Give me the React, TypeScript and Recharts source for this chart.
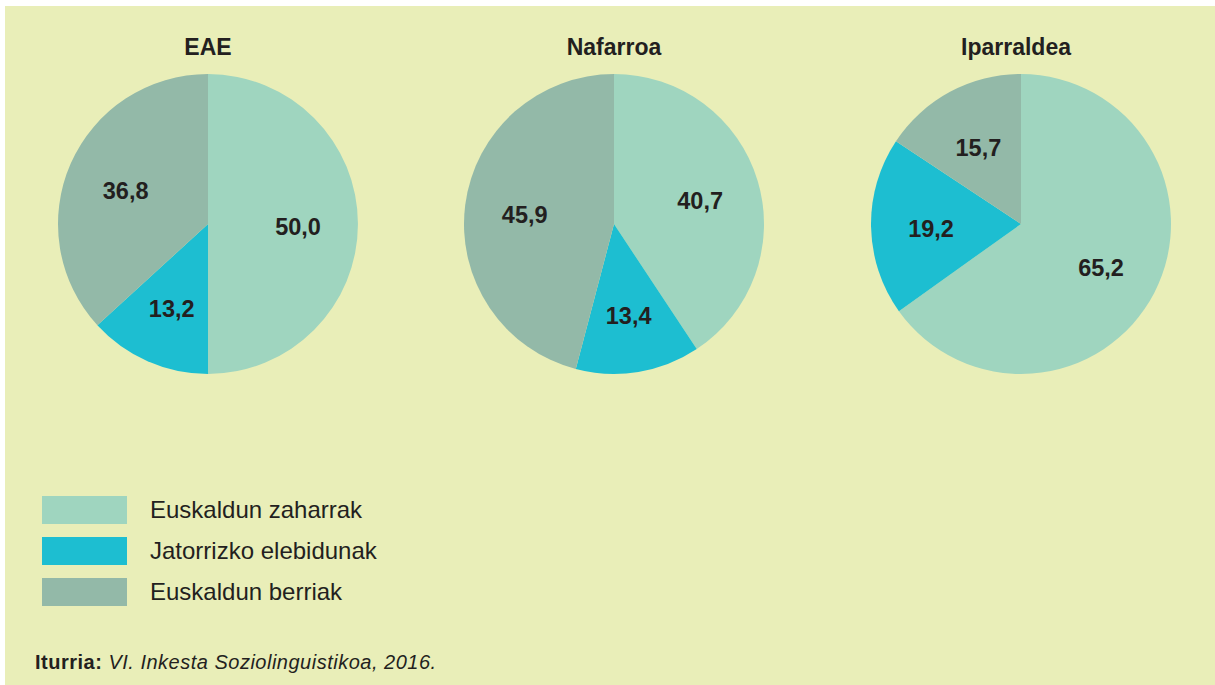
import { Cell, Pie, PieChart } from 'recharts'

// Euskaldun tipologia eremuka (%), VI. Inkesta Soziolinguistikoa 2016
const REGIONS = ['EAE', 'Nafarroa', 'Iparraldea']
const GROUPS = ['Euskaldun zaharrak', 'Jatorrizko elebidunak', 'Euskaldun berriak']
const EAE_VALUES = [50.0, 13.2, 36.8]
const NAFARROA_VALUES = [40.7, 13.4, 45.9]
const IPARRALDEA_VALUES = [65.2, 19.2, 15.7]
const GROUP_COLORS = ['#9fd5bf', '#1dbed1', '#93b9a8']

const VALUES = [EAE_VALUES, NAFARROA_VALUES, IPARRALDEA_VALUES]

const FONT = '"Liberation Sans", Arial, Helvetica, sans-serif'
const INK = '#231f20'
const BG = '#e9eeb8'

// pie layout: centres along one row, same radius
const PIE_CENTERS_X = [208, 614, 1021]
const TITLE_CENTERS_X = [208, 614, 1016]
const PIE_CY = 224
const R = 150
const BOX = 320
const RADIAN = Math.PI / 180

const fmt = (v: number) => v.toFixed(1).replace('.', ',')

function renderLabel(props: any) {
  const { cx, cy, midAngle, value } = props
  const r = R * 0.6
  const x = cx + r * Math.cos(-midAngle * RADIAN)
  const y = cy + r * Math.sin(-midAngle * RADIAN) + 3
  return (
    <text
      x={x}
      y={y}
      textAnchor="middle"
      dominantBaseline="central"
      fontFamily={FONT}
      fontWeight={700}
      fontSize={23.5}
      fill={INK}
    >
      {fmt(value)}
    </text>
  )
}

function RegionPie({ index }: { index: number }) {
  const data = GROUPS.map((name, i) => ({ name, value: VALUES[index][i] }))
  const centerX = PIE_CENTERS_X[index]
  return (
    <>
      <div
        style={{
          position: 'absolute',
          left: TITLE_CENTERS_X[index] - 150,
          top: 36,
          width: 300,
          textAlign: 'center',
          fontFamily: FONT,
          fontWeight: 700,
          fontSize: 23,
          lineHeight: '23px',
          color: INK,
        }}
      >
        {REGIONS[index]}
      </div>
      <div style={{ position: 'absolute', left: centerX - BOX / 2, top: PIE_CY - BOX / 2 }}>
        <PieChart width={BOX} height={BOX} margin={{ top: 0, right: 0, bottom: 0, left: 0 }}>
          <Pie
            data={data}
            dataKey="value"
            nameKey="name"
            cx={BOX / 2}
            cy={BOX / 2}
            outerRadius={R}
            startAngle={90}
            endAngle={-270}
            stroke="none"
            labelLine={false}
            label={renderLabel}
            isAnimationActive={false}
          >
            {data.map((d, i) => (
              <Cell key={d.name} fill={GROUP_COLORS[i]} />
            ))}
          </Pie>
        </PieChart>
      </div>
    </>
  )
}

export default function App() {
  return (
    <div
      style={{
        position: 'fixed',
        left: 0,
        top: 0,
        width: 1215,
        height: 685,
        background: '#ffffff',
        overflow: 'hidden',
      }}
    >
      <div style={{ position: 'absolute', left: 5, top: 6, right: 0, bottom: 0, background: BG }} />
      {REGIONS.map((r, i) => (
        <RegionPie key={r} index={i} />
      ))}
      {GROUPS.map((g, i) => (
        <div
          key={g}
          style={{
            position: 'absolute',
            left: 42,
            top: 496 + i * 41,
            height: 28,
            display: 'flex',
            alignItems: 'center',
          }}
        >
          <div style={{ width: 85, height: 28, background: GROUP_COLORS[i] }} />
          <span
            style={{
              marginLeft: 23,
              fontFamily: FONT,
              fontSize: 24,
              lineHeight: '28px',
              color: INK,
              whiteSpace: 'nowrap',
            }}
          >
            {g}
          </span>
        </div>
      ))}
      <div
        style={{
          position: 'absolute',
          left: 35,
          top: 652,
          fontFamily: FONT,
          fontSize: 20,
          lineHeight: '20px',
          letterSpacing: 0.5,
          color: INK,
          whiteSpace: 'nowrap',
        }}
      >
        <b>Iturria:</b> <i>VI. Inkesta Soziolinguistikoa, 2016.</i>
      </div>
    </div>
  )
}
